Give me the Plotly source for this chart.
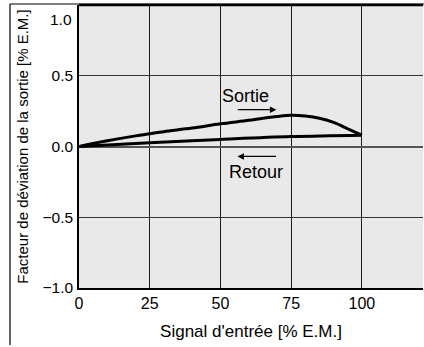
import plotly.graph_objects as go

# Data
sortie_x = [0, 10, 20, 25, 30, 40, 50, 60, 65, 70, 75, 80, 85, 90, 95, 100]
sortie_y = [0.0, 0.04, 0.075, 0.09, 0.105, 0.13, 0.16, 0.185, 0.2, 0.212, 0.22, 0.215, 0.2, 0.17, 0.125, 0.08]
retour_x = [100, 75, 50, 25, 0]
retour_y = [0.08, 0.07, 0.05, 0.027, 0.0]

x_ticks = [0, 25, 50, 75, 100]
y_ticks = [-1.0, -0.5, 0.0, 0.5, 1.0]
y_tick_text = ["\u22121.0", "\u22120.5", "0.0", "0.5", ""]
top_tick_label = "1.0"

FONT = "Liberation Sans, Arial, Helvetica, sans-serif"

fig = go.Figure()
fig.add_trace(go.Scatter(x=sortie_x, y=sortie_y, mode="lines", line=dict(color="black", width=3, shape="spline"), showlegend=False))
fig.add_trace(go.Scatter(x=retour_x, y=retour_y, mode="lines", line=dict(color="black", width=3, shape="spline"), showlegend=False))

fig.update_layout(
    width=424, height=347,
    margin=dict(l=79, r=1, t=5, b=59, autoexpand=False),
    paper_bgcolor="white",
    plot_bgcolor="#e8e9e8",
    font=dict(family=FONT, color="black", size=13),
    xaxis=dict(
        range=[0, 121.6], tickvals=x_ticks, ticktext=[str(v) for v in x_ticks],
        showgrid=True, gridcolor="#1a1a1a", gridwidth=1,
        showline=True, linecolor="black", linewidth=1.5,
        zeroline=False, ticks="", tickfont=dict(size=16), automargin=False,
        ticklabeloverflow="allow",
        title=dict(text="Signal d'entrée [% E.M.]", font=dict(size=17), standoff=14),
    ),
    yaxis=dict(
        range=[-1, 1], tickvals=y_ticks, ticktext=y_tick_text,
        showgrid=True, gridcolor="#333333", gridwidth=1.2,
        showline=True, linecolor="black", linewidth=1.5,
        zeroline=True, zerolinecolor="#555555", zerolinewidth=2,
        ticks="", tickfont=dict(size=15.5), automargin=False,
        ticklabeloverflow="allow", ticklabelstandoff=1,
        title=dict(text="Facteur de déviation de la sortie [% E.M.]", font=dict(size=15), standoff=10),
    ),
    shapes=[
        dict(type="line", xref="paper", yref="paper", x0=0, x1=1, y0=1, y1=1, line=dict(color="black", width=2.5)),
        dict(type="line", xref="paper", yref="paper", x0=-0.2006, x1=-0.2006, y0=-0.2014, y1=1.0035, line=dict(color="black", width=1.2)),
        dict(type="line", xref="paper", yref="paper", x0=-0.2006, x1=1.01, y0=1.0035, y1=1.0035, line=dict(color="black", width=1.2)),
    ],
    annotations=[
        dict(x=0, y=1, xref="paper", yref="paper", text=top_tick_label, showarrow=False,
             xanchor="right", yanchor="top", xshift=-5, yshift=-4, font=dict(size=15.5)),
        dict(x=59, y=0.36, xref="x", yref="y", text="Sortie", showarrow=False, font=dict(size=18)),
        dict(x=62.5, y=-0.18, xref="x", yref="y", text="Retour", showarrow=False, font=dict(size=18)),
        dict(x=69.8, y=0.26, ax=55.6, ay=0.26, xref="x", yref="y", axref="x", ayref="y", text="",
             showarrow=True, arrowhead=2, arrowsize=1, arrowwidth=1.3, arrowcolor="black"),
        dict(x=56.0, y=-0.07, ax=70.2, ay=-0.07, xref="x", yref="y", axref="x", ayref="y", text="",
             showarrow=True, arrowhead=2, arrowsize=1, arrowwidth=1.3, arrowcolor="black"),
    ],
)

fig.write_html("out.html", config={"displayModeBar": False},
               post_script="document.body.style.margin='0';document.body.style.overflow='hidden';")
